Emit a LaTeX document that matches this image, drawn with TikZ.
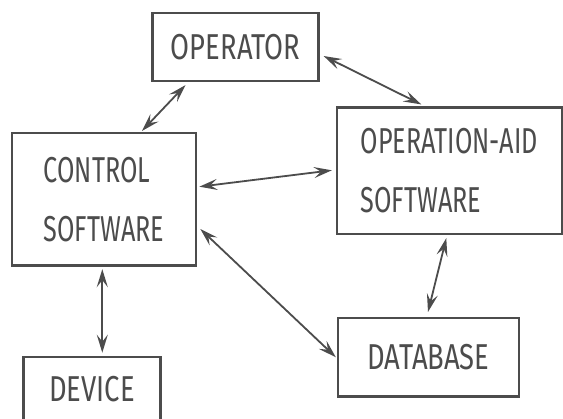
\documentclass[tikz,border=0pt]{standalone}
\usepackage{fontspec}
\newfontfamily\hand{Fira Sans}[FakeStretch=0.76]
\newfontfamily\handnarrow{Fira Sans}[FakeStretch=0.7]
\usetikzlibrary{arrows.meta,calc}
\definecolor{ink}{gray}{0.3}
\tikzset{
  box/.style={draw=ink, line width=2.2pt, inner sep=0pt, text=ink,
    font=\hand\fontsize{36}{59}\selectfont, align=left},
  narrowtext/.style={font=\handnarrow\fontsize{36}{59}\selectfont},
  lbl/.style={inner sep=0pt, text=ink, font=\hand\fontsize{36}{59}\selectfont},
  biarrow/.style={draw=ink, line width=1.8pt,
    {Stealth[length=18pt,width=11pt,inset=7pt]}-{Stealth[length=18pt,width=11pt,inset=7pt]}}
}
\begin{document}
\begin{tikzpicture}[x=1pt,y=-1pt]
\useasboundingbox (0,0) rectangle (563,419);
\clip (0,0) rectangle (563,419);
\fill[white] (0,0) rectangle (563,419);

\node[box, minimum width=166pt, minimum height=68pt] (op) at (235.5,47) {OPERATOR};
\node[box, narrowtext, minimum width=184.5pt, minimum height=132.5pt] (ctl) at (104,199.3) {CONTROL\\SOFTWARE};
\node[box, narrowtext, minimum width=224.7pt, minimum height=126.5pt] (aid) at (449.3,170.8) {OPERATION-AID\\SOFTWARE};
\node[box, minimum width=181pt, minimum height=78.5pt] (db) at (428.5,357.3) {DATABASE};
\node[box, minimum width=137pt, minimum height=100pt, anchor=north,
  label={[lbl, anchor=center, yshift=-33pt]north:DEVICE}] (dev) at (92,356) {};

\draw[biarrow] ([xshift=-50pt,yshift=-3pt]op.south) -- ([xshift=38pt,yshift=1pt]ctl.north);
\draw[biarrow] ([xshift=4pt,yshift=-9pt]op.east) -- ([xshift=-28pt,yshift=2pt]aid.north);
\draw[biarrow] ([xshift=2pt,yshift=12.6pt]ctl.east) -- ([xshift=-4pt,yshift=0.5pt]aid.west);
\draw[biarrow] ([xshift=3pt,yshift=-29.7pt]ctl.east) -- ([xshift=-1pt]db.west);
\draw[biarrow] ([xshift=-3pt,yshift=-3pt]aid.south) -- ([xshift=-0.5pt,yshift=5pt]db.north);
\draw[biarrow] ([xshift=-1.7pt,yshift=-2.5pt]ctl.south) -- ([xshift=10.3pt,yshift=3.3pt]dev.north);
\end{tikzpicture}
\end{document}
